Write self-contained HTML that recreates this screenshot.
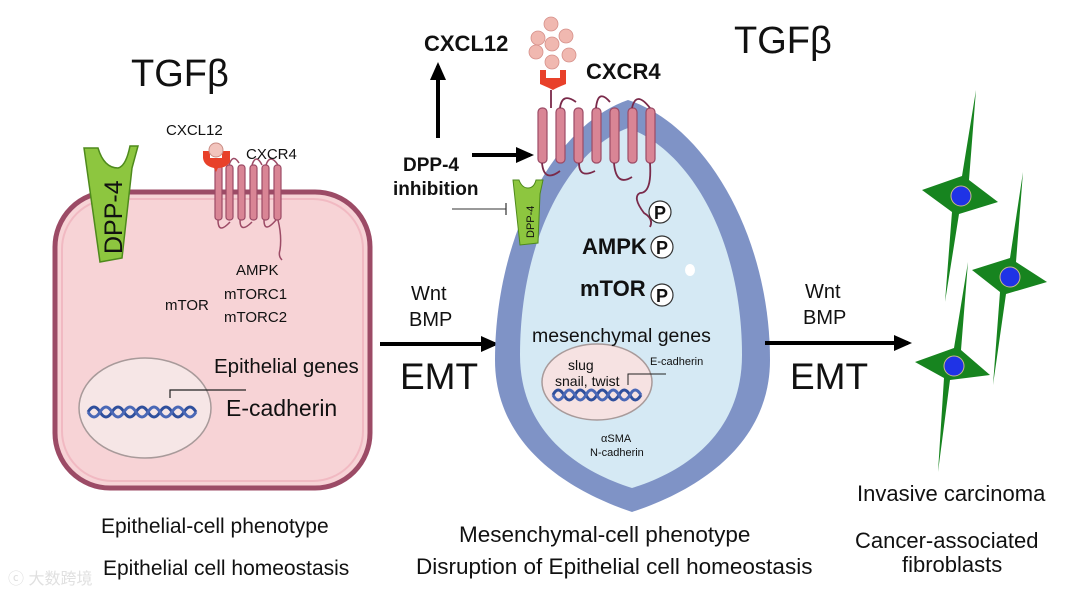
<!DOCTYPE html>
<html><head><meta charset="utf-8"><style>
html,body{margin:0;padding:0;background:#fff;}
svg{display:block;}
text{font-family:"Liberation Sans",Arial,sans-serif;fill:#111;}
</style></head><body>
<svg width="1080" height="598" viewBox="0 0 1080 598" xmlns="http://www.w3.org/2000/svg">
<defs>
<marker id="ah" markerWidth="18" markerHeight="16" refX="14" refY="8" orient="auto" markerUnits="userSpaceOnUse"><path d="M0,0 L18,8 L0,16 Z" fill="#000"/></marker>
</defs>

<!-- Left cell -->
<rect x="55" y="192" width="315" height="296" rx="55" ry="55" fill="#f7d3d6" stroke="#9c4b66" stroke-width="5"/>
<rect x="62" y="199" width="301" height="282" rx="50" ry="50" fill="none" stroke="#f1b9c2" stroke-width="2"/>
<ellipse cx="145" cy="408" rx="66" ry="50" fill="#f6e6e6" stroke="#a89a9a" stroke-width="1.5"/>
<path d="M88,412 q6,-10 12,0 q6,10 12,0 q6,-10 12,0 q6,10 12,0 q6,-10 12,0 q6,10 12,0 q6,-10 12,0 q6,10 12,0 q6,-10 12,0" fill="none" stroke="#2f4f9c" stroke-width="3"/>
<path d="M88,412 q6,10 12,0 q6,-10 12,0 q6,10 12,0 q6,-10 12,0 q6,10 12,0 q6,-10 12,0 q6,10 12,0 q6,-10 12,0 q6,10 12,0" fill="none" stroke="#4a68b6" stroke-width="3"/>
<polyline points="170,398 170,390 246,390" fill="none" stroke="#222" stroke-width="1.2"/>
<text x="214" y="373" font-size="20.5">Epithelial genes</text>
<text x="226" y="416" font-size="23">E-cadherin</text>
<!-- DPP-4 left -->
<path d="M84,148 L98,148 Q104,168 118,168 Q126,166 130,146 L138,146 L132,168 L122,258 L100,262 Z" fill="#8dc63f" stroke="#4e8a1c" stroke-width="1.5"/>
<text transform="translate(122,254) rotate(-90)" font-size="25">DPP-4</text>
<!-- CXCR4 left -->
<g fill="#d98595" stroke="#9c4b66" stroke-width="1.2">
<rect x="215" y="165" width="7" height="55" rx="3"/><rect x="226" y="165" width="7" height="55" rx="3"/>
<rect x="238" y="165" width="7" height="55" rx="3"/><rect x="250" y="165" width="7" height="55" rx="3"/>
<rect x="262" y="165" width="7" height="55" rx="3"/><rect x="274" y="165" width="7" height="55" rx="3"/>
</g>
<path d="M218,220 q0,15 12,2 M240,220 q0,14 12,2 M264,220 q0,14 12,0 M278,220 q4,16 2,30 q-2,6 2,10 M229,165 q4,-12 10,-2 M252,165 q4,-12 10,0 M266,165 q4,-12 12,0" fill="none" stroke="#9c4b66" stroke-width="1.5"/>
<path d="M203,151 L210,151 L210,158 L222,158 L222,151 L230,151 L230,162 Q226,168 218,168 L216,172 L214,168 Q204,166 203,158 Z" fill="#e8412a"/>
<circle cx="216" cy="150" r="7" fill="#f2c4bd" stroke="#c98c84"/>
<text x="166" y="135" font-size="15">CXCL12</text>
<text x="246" y="159" font-size="15">CXCR4</text>
<text x="236" y="275" font-size="15">AMPK</text>
<text x="224" y="299" font-size="15">mTORC1</text>
<text x="224" y="322" font-size="15">mTORC2</text>
<text x="165" y="310" font-size="15">mTOR</text>
<text x="131" y="86" font-size="38">TGFβ</text>

<text x="101" y="533" font-size="21">Epithelial-cell phenotype</text>
<text x="103" y="575" font-size="21">Epithelial cell homeostasis</text>
<text x="8" y="584" font-size="16" style="fill:#e0e0e0">ⓒ 大数跨境</text>

<!-- middle arrow -->
<line x1="380" y1="344" x2="495" y2="344" stroke="#000" stroke-width="4" marker-end="url(#ah)"/>
<text x="411" y="300" font-size="20">Wnt</text>
<text x="409" y="326" font-size="20">BMP</text>
<text x="400" y="389" font-size="37">EMT</text>

<!-- Mesenchymal cell -->
<path d="M628,100 C705,125 770,235 770,360 C770,440 705,488 632,512 C560,488 495,440 495,360 C495,235 555,125 628,100 Z" fill="#7f93c6"/>
<path d="M628,128 C690,150 742,240 742,355 C742,430 690,470 632,488 C575,470 520,430 520,355 C520,240 568,150 628,128 Z" fill="#d5e9f4"/>
<ellipse cx="690" cy="270" rx="5" ry="6" fill="#fff"/>
<ellipse cx="597" cy="382" rx="55" ry="38" fill="#f6e2e2" stroke="#a89a9a" stroke-width="1.5"/>
<path d="M553,395 q5,-10 11,0 q5,10 11,0 q5,-10 11,0 q5,10 11,0 q5,-10 11,0 q5,10 11,0 q5,-10 11,0 q5,10 11,0" fill="none" stroke="#2f4f9c" stroke-width="3"/>
<path d="M553,395 q5,10 11,0 q5,-10 11,0 q5,10 11,0 q5,-10 11,0 q5,10 11,0 q5,-10 11,0 q5,10 11,0 q5,-10 11,0" fill="none" stroke="#4a68b6" stroke-width="3"/>
<polyline points="628,385 628,374 666,374" fill="none" stroke="#222" stroke-width="1"/>
<text x="532" y="342" font-size="19.5">mesenchymal genes</text>
<text x="568" y="370" font-size="14">slug</text>
<text x="555" y="386" font-size="14">snail, twist</text>
<text x="650" y="365" font-size="11">E-cadherin</text>
<text x="601" y="442" font-size="11">αSMA</text>
<text x="590" y="456" font-size="11">N-cadherin</text>
<g fill="#d98595" stroke="#9c4b66" stroke-width="1.2">
<rect x="538" y="108" width="9" height="55" rx="4"/><rect x="556" y="108" width="9" height="55" rx="4"/>
<rect x="574" y="108" width="9" height="55" rx="4"/><rect x="592" y="108" width="9" height="55" rx="4"/>
<rect x="610" y="108" width="9" height="55" rx="4"/><rect x="628" y="108" width="9" height="55" rx="4"/>
<rect x="646" y="108" width="9" height="55" rx="4"/>
</g>
<path d="M542,163 q2,20 18,8 M579,163 q0,16 16,8 M614,163 q2,24 18,14 M650,163 q2,30 -10,30 q-8,4 4,20 q10,6 6,14 M560,108 q2,-16 16,-6 M596,108 q2,-20 14,-6 M632,108 q4,-18 18,0 M551,90 L551,108" fill="none" stroke="#7a2a4a" stroke-width="1.8"/>
<path d="M540,70 L546,70 L546,78 L560,78 L560,70 L566,70 L566,84 Q556,88 553,90 L549,88 L540,84 Z" fill="#e8412a"/>
<g fill="#f0b8b0" stroke="#d6908a" stroke-width="0.8">
<circle cx="551" cy="24" r="7"/><circle cx="566" cy="36" r="7"/><circle cx="538" cy="38" r="7"/><circle cx="552" cy="44" r="7"/>
<circle cx="569" cy="55" r="7"/><circle cx="536" cy="52" r="7"/><circle cx="552" cy="62" r="7"/>
</g>
<text x="424" y="51" font-size="22" font-weight="bold">CXCL12</text>
<text x="586" y="79" font-size="22" font-weight="bold">CXCR4</text>
<text x="734" y="53" font-size="38">TGFβ</text>
<line x1="438" y1="138" x2="438" y2="66" stroke="#000" stroke-width="4" marker-end="url(#ah)"/>
<line x1="472" y1="155" x2="530" y2="155" stroke="#000" stroke-width="4" marker-end="url(#ah)"/>
<text x="403" y="171" font-size="19" font-weight="bold">DPP-4</text>
<text x="393" y="195" font-size="19" font-weight="bold">inhibition</text>
<line x1="452" y1="209" x2="506" y2="209" stroke="#333" stroke-width="1"/>
<line x1="506" y1="203" x2="506" y2="215" stroke="#333" stroke-width="1.2"/>
<path d="M513,180 L519,180 Q522,188 528,188 Q534,188 536,180 L543,180 L540,194 L538,243 L520,245 Z" fill="#8dc63f" stroke="#4e8a1c" stroke-width="1"/>
<text transform="translate(534,238) rotate(-90)" font-size="11">DPP-4</text>
<g fill="#fff" stroke="#333" stroke-width="1.2">
<circle cx="660" cy="212" r="11"/><circle cx="662" cy="247" r="11"/><circle cx="662" cy="295" r="11"/>
</g>
<text x="654" y="219" font-size="18" font-weight="bold">P</text>
<text x="656" y="254" font-size="18" font-weight="bold">P</text>
<text x="656" y="302" font-size="18" font-weight="bold">P</text>
<text x="582" y="254" font-size="22" font-weight="bold">AMPK</text>
<text x="580" y="296" font-size="22" font-weight="bold">mTOR</text>

<text x="459" y="542" font-size="22.5">Mesenchymal-cell phenotype</text>
<text x="416" y="574" font-size="22.5">Disruption of Epithelial cell homeostasis</text>

<!-- right arrow -->
<line x1="765" y1="343" x2="908" y2="343" stroke="#000" stroke-width="4" marker-end="url(#ah)"/>
<text x="805" y="298" font-size="20">Wnt</text>
<text x="803" y="324" font-size="20">BMP</text>
<text x="790" y="389" font-size="37">EMT</text>

<!-- fibroblasts -->
<g fill="#17841f">
<path d="M976,90 L969,180 L998,202 L959,214 L945,302 L952,212 L922,190 L962,176 Z"/>
<path d="M1023,172 L1016,262 L1047,282 L1006,294 L993,385 L1000,292 L972,270 L1010,258 Z"/>
<path d="M968,262 L961,350 L990,375 L950,380 L938,472 L944,378 L915,362 L954,348 Z"/>
</g>
<g fill="#1f33e6" stroke="#c8b88a" stroke-width="1">
<circle cx="961" cy="196" r="10"/><circle cx="1010" cy="277" r="10"/><circle cx="954" cy="366" r="10"/>
</g>
<text x="857" y="501" font-size="22">Invasive carcinoma</text>
<text x="855" y="548" font-size="22">Cancer-associated</text>
<text x="902" y="572" font-size="22">fibroblasts</text>
</svg>
</body></html>
